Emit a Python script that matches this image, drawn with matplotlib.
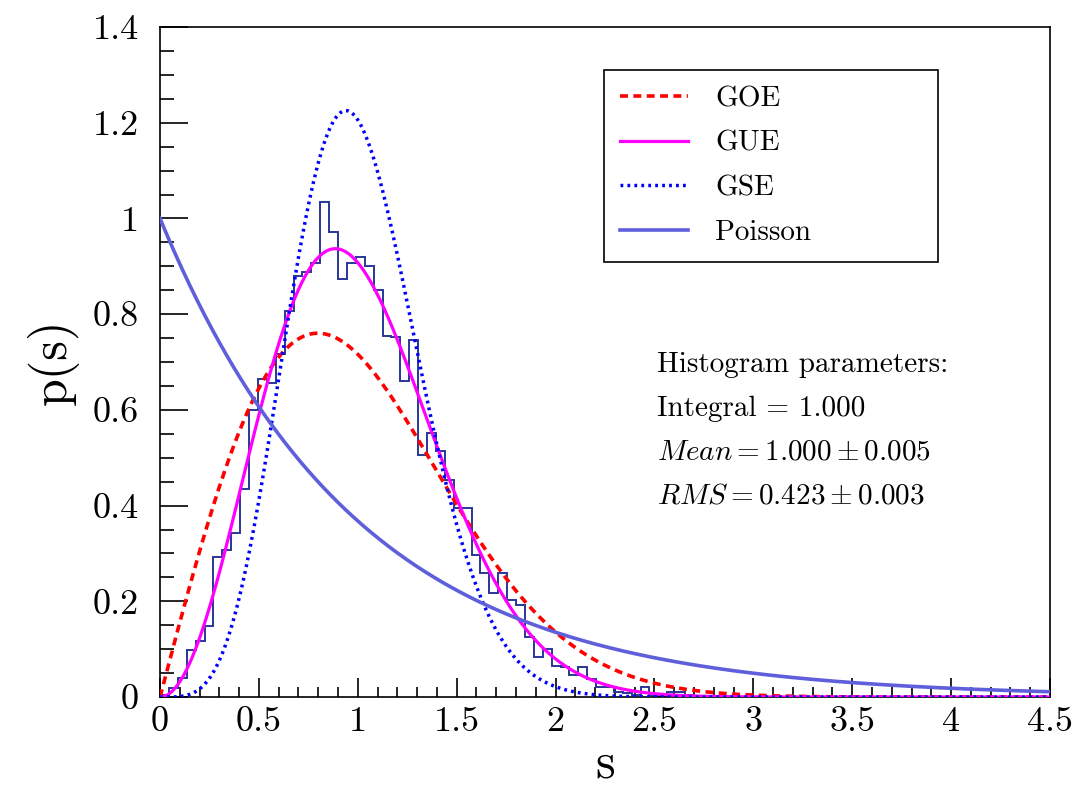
import numpy as np
import matplotlib
matplotlib.use("Agg")
import matplotlib.pyplot as plt

plt.rcParams['font.family'] = ['cmr10', 'DejaVu Serif']
plt.rcParams['mathtext.fontset'] = 'cm'
plt.rcParams['axes.formatter.use_mathtext'] = True
plt.rcParams['axes.unicode_minus'] = False

# level-spacing histogram, 100 bins on [0, 4.5]
hist_values = [
    0.005, 0.018, 0.039, 0.098, 0.117, 0.148, 0.292, 0.307, 0.342, 0.434,
    0.600, 0.664, 0.657, 0.716, 0.807, 0.880, 0.889, 0.906, 1.035, 0.971,
    0.873, 0.906, 0.919, 0.901, 0.850, 0.754, 0.752, 0.660, 0.746, 0.506,
    0.552, 0.515, 0.453, 0.394, 0.394, 0.297, 0.260, 0.217, 0.260, 0.203,
    0.192, 0.126, 0.083, 0.100, 0.065, 0.062, 0.046, 0.062, 0.037, 0.020,
    0.020, 0.011, 0.008, 0.005, 0.020, 0.004, 0.002, 0.010, 0.010, 0.004,
] + [0.0] * 40
s_min, s_max = 0.0, 4.5

legend_labels = ['GOE', 'GUE', 'GSE', 'Poisson']
stats_lines = [
    'Histogram parameters:',
    'Integral = 1.000',
    r'$Mean = 1.000 \pm 0.005$',
    r'$RMS = 0.423 \pm 0.003$',
]

# theoretical curves (Wigner surmise + Poisson)
s = np.linspace(s_min, s_max, 600)
p_goe = np.pi / 2 * s * np.exp(-np.pi * s**2 / 4)
p_gue = 32 / np.pi**2 * s**2 * np.exp(-4 * s**2 / np.pi)
p_gse = 2**18 / (3**6 * np.pi**3) * s**4 * np.exp(-64 * s**2 / (9 * np.pi))
p_poi = np.exp(-s)

fig = plt.figure(figsize=(10.82, 7.92), dpi=100)
ax = fig.add_axes([0.1479, 0.1199, 0.8225, 0.846])

edges = np.linspace(s_min, s_max, len(hist_values) + 1)
ax.stairs(hist_values, edges, color='#2a3697', lw=1.4, zorder=2)

ax.plot(s, p_goe, color='#ff0000', lw=2.6, dashes=(2.2, 1.5), label=legend_labels[0], zorder=3)
ax.plot(s, p_gue, color='#ff00ff', lw=2.3, label=legend_labels[1], zorder=3)
ax.plot(s, p_gse, color='#0000ff', lw=2.5, dashes=(0.8, 1.2), label=legend_labels[2], zorder=3)
ax.plot(s, p_poi, color='#5f5fdc', lw=2.6, label=legend_labels[3], zorder=3)

ax.set_xlim(s_min, s_max)
ax.set_ylim(0, 1.4)
ax.set_xticks(np.arange(0, 4.51, 0.5))
ax.set_xticks(np.arange(0, 4.51, 0.1), minor=True)
ax.set_yticks(np.arange(0, 1.41, 0.2))
ax.set_yticks(np.arange(0, 1.41, 0.05), minor=True)
ax.set_xticklabels(['%g' % v for v in np.arange(0, 4.51, 0.5)])
ax.set_yticklabels(['%g' % round(v, 1) for v in np.arange(0, 1.41, 0.2)])

ax.tick_params(axis='both', which='both', direction='in', top=False, right=False,
               labelsize=26, width=1.2)
ax.tick_params(axis='y', which='major', length=20, pad=15)
ax.tick_params(axis='y', which='minor', length=10)
ax.tick_params(axis='x', which='major', length=14, pad=7)
ax.tick_params(axis='x', which='minor', length=7)
for sp in ax.spines.values():
    sp.set_linewidth(1.2)

ax.set_xlabel('s', fontsize=36, labelpad=2)
ax.set_ylabel('p(s)', fontsize=36, labelpad=10)

leg = ax.legend(loc='upper left', bbox_to_anchor=(0.499, 0.936, 0.375, 0.0),
                mode='expand', fontsize=21,
                frameon=True, fancybox=False, edgecolor='black', framealpha=1,
                handlelength=2.33, labelspacing=0.62, borderpad=0.55,
                handletextpad=0.92, borderaxespad=0)
leg.get_frame().set_linewidth(1.2)

for i, line in enumerate(stats_lines):
    ax.text(0.558, 0.4955 - i * 0.0655, line, transform=ax.transAxes,
            fontsize=21, va='center', ha='left')

fig.savefig('out.png', dpi=100)
